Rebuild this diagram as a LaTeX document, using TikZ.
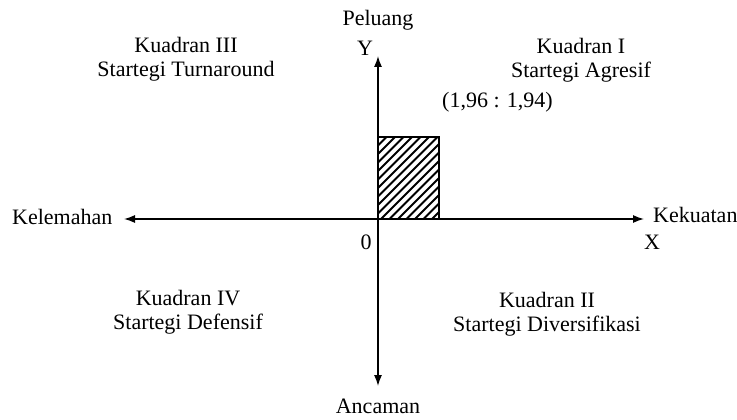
\documentclass[tikz,border=0pt]{standalone}
\usepackage{fontspec}
\setmainfont{Liberation Serif}
\usetikzlibrary{arrows.meta}

\tikzset{
    axis/.style={line width=1.3pt, -{Latex[length=11pt, width=8pt]}},
    hatch/.style={line width=2pt},
    lbl/.style={inner sep=0pt, font=\fontsize{22}{24.5}\selectfont},
    kuad/.style={lbl, align=center},
}

\begin{document}
\begin{tikzpicture}[x=1pt, y=-1pt]
    \useasboundingbox (0,0) rectangle (737,420);

    %% Axes
    \coordinate (O) at (378,219);
    \coordinate (top) at (378,56);
    \coordinate (bottom) at (378,386);
    \coordinate (left) at (124,219);
    \coordinate (right) at (644,219);
    \draw[axis] (O) -- (top);
    \draw[axis] (O) -- (bottom);
    \draw[axis] (O) -- (left);
    \draw[axis] (O) -- (right);

    %% Position point, hatched box
    \coordinate (P) at (439,137);
    \begin{scope}
        \clip (O) rectangle (P);
        \foreach \s in {-84,-75.5,...,64}
            \draw[hatch] (378+\s,221) -- (378+\s+84,137);
    \end{scope}
    \draw[line width=1.3pt] (O) rectangle (P);

    \node[lbl] (peluang) at (378,20) {Peluang};
    \node[lbl] (ancaman) at (378,406) {Ancaman};
    \node[lbl, anchor=west] (kelemahan) at (12,217) {Kelemahan};
    \node[lbl, anchor=west] (kekuatan) at (653,215) {Kekuatan};
    \node[lbl] (ylabel) at (365,48) {Y};
    \node[lbl] (xlabel) at (652,242) {X};
    \node[lbl] (zero) at (366,242) {0};
    \node[lbl, anchor=west] (titik) at (442,102) {(1,96 : 1,94)};

    %% Quadrants
    \node[kuad] (kuad1) at (581,60) {Kuadran I\\Startegi Agresif};
    \node[kuad] (kuad2) at (547,314) {Kuadran II\\Startegi Diversifikasi};
    \node[kuad] (kuad3) at (186,59) {Kuadran III\\Startegi Turnaround};
    \node[kuad] (kuad4) at (188,312) {Kuadran IV\\Startegi Defensif};

\end{tikzpicture}
\end{document}
